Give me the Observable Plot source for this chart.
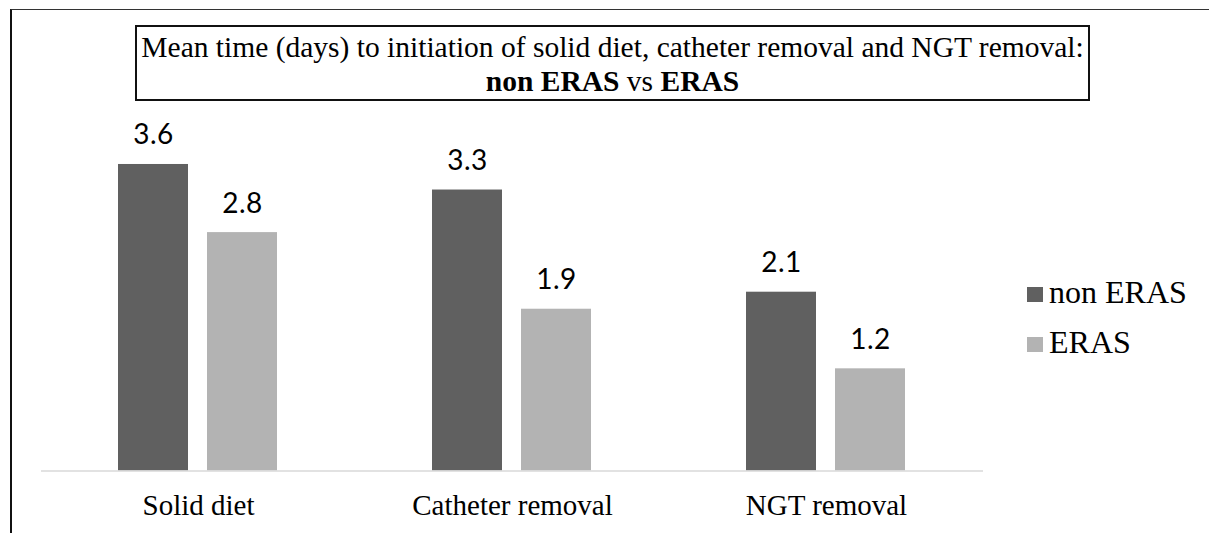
<!DOCTYPE html>
<html>
<head>
<meta charset="utf-8">
<script src="https://cdn.jsdelivr.net/npm/d3@7"></script>
<script src="https://cdn.jsdelivr.net/npm/@observablehq/plot@0.6"></script>
<style>
  html, body { margin: 0; padding: 0; background: #fff; }
  #wrap { position: relative; width: 1209px; height: 533px; overflow: hidden; }
  #frame { position: absolute; left: 10px; top: 9px; width: 1300px; height: 600px;
           border-left: 2px solid #111; border-top: 1.5px solid #333; box-sizing: border-box; }
  #chart { position: absolute; left: 0; top: 0; }
  #title { position: absolute; left: 135px; top: 25px; width: 955px; height: 76px; box-sizing: border-box;
           border: 2px solid #111; font-family: "Liberation Serif", "Times New Roman", serif;
           font-size: 29.5px; line-height: 34px; text-align: center; padding-top: 3px; color: #000; white-space: nowrap; }
  .leg { position: absolute; font-family: "Liberation Serif", "Times New Roman", serif; font-size: 32px; line-height: 32px; color: #000; white-space: nowrap; }
  .sw { position: absolute; width: 16px; height: 15px; }
  g[aria-label="text"] text { letter-spacing: 0.5px; }
</style>
</head>
<body>
<div id="wrap">
  <div id="frame"></div>
  <div id="chart"></div>
  <div id="title">Mean time (days) to initiation of solid diet, catheter removal and NGT removal:<br><b>non ERAS</b> vs <b>ERAS</b></div>
  <div id="legend"></div>
</div>
<script>
const categories = ["Solid diet", "Catheter removal", "NGT removal"];
const groups = ["non ERAS", "ERAS"];
const nonErasValues = [3.6, 3.3, 2.1];
const erasValues = [2.8, 1.9, 1.2];
const groupColors = ["#606060", "#b3b3b3"];

const data = categories.flatMap((c, i) => [
  {category: c, group: groups[0], value: nonErasValues[i]},
  {category: c, group: groups[1], value: erasValues[i]}
]);

const chart = Plot.plot({
  width: 1209,
  height: 533,
  marginLeft: 40,
  marginRight: 226,
  marginTop: 0,
  marginBottom: 62.5,
  style: {fontFamily: "'Liberation Serif', 'Times New Roman', serif", fontSize: "29px", color: "#000", background: "transparent"},
  fx: {domain: categories, padding: 0, label: null, axis: "bottom", tickSize: 0, tickPadding: 23.9},
  x: {domain: groups, paddingInner: 0.212, paddingOuter: 0.8626, axis: null},
  y: {domain: [0, 5.526], axis: null},
  color: {domain: groups, range: groupColors},
  marks: [
    Plot.barY(data, {fx: "category", x: "group", y: "value", fill: "group"}),
    Plot.ruleY([0], {stroke: "#d9d9d9", strokeWidth: 1.5}),
    Plot.text(data, {fx: "category", x: "group", y: "value", text: d => d.value.toFixed(1),
      lineAnchor: "bottom", dy: -20, fontFamily: "Lato, 'Open Sans', sans-serif", fontSize: 28, fill: "#000"})
  ]
});
document.getElementById("chart").appendChild(chart);

const legend = document.getElementById("legend");
groups.forEach((g, i) => {
  const top = 287 + i * 50;
  const sw = document.createElement("div");
  sw.className = "sw";
  sw.style.left = "1027px";
  sw.style.top = top + "px";
  sw.style.background = groupColors[i];
  legend.appendChild(sw);
  const t = document.createElement("div");
  t.className = "leg";
  t.style.left = "1049px";
  t.style.top = (top - 11) + "px";
  t.textContent = g;
  legend.appendChild(t);
});
</script>
</body>
</html>
